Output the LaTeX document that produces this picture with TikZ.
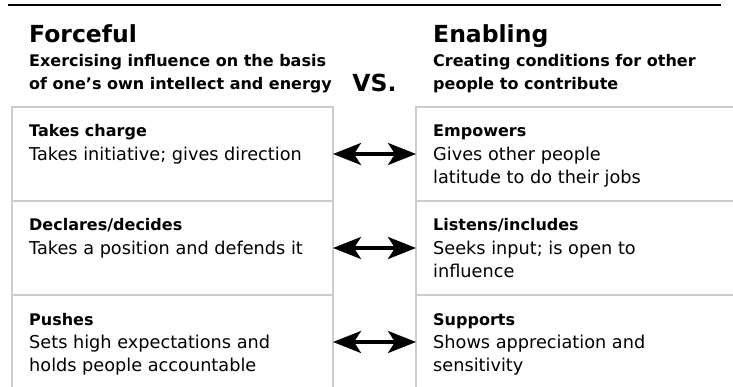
\documentclass[tikz,border=0pt]{standalone}
\usepackage{fontspec}
\setmainfont{DejaVu Sans}
\usepackage{tikz}
\usetikzlibrary{arrows.meta, calc, positioning}
\tikzstyle{heading} = [anchor=base west, inner sep=0pt, font={\fontsize{23.5}{28}\selectfont\bfseries}]
\tikzstyle{subheading} = [anchor=north west, inner sep=0pt, align=left,
font={\fontsize{16}{23}\selectfont\bfseries}]
\tikzstyle{cell} = [rectangle, draw=black!20, line width=1.1pt, outer sep=0pt,
inner sep=0pt, minimum height=94pt]
\tikzstyle{leftcell} = [cell, minimum width=321pt]
\tikzstyle{rightcell} = [cell, minimum width=344pt]
\tikzstyle{celltitle} = [anchor=base west, inner sep=0pt, font={\fontsize{16}{23.5}\selectfont\bfseries}]
\tikzstyle{celltext} = [anchor=north west, inner sep=0pt, align=left,
font={\fontsize{17.7}{23.5}\selectfont}]
\tikzstyle{arrow} = [line width=3.6pt,
{Stealth[length=28pt, width=22pt, inset=7pt]}-{Stealth[length=28pt, width=22pt, inset=7pt]}]

\begin{document}
\begin{tikzpicture}[x=1pt, y=1pt]
      \useasboundingbox (0,0) rectangle (733,-387);
      \clip (0,0) rectangle (733,-387);
      \draw [line width=1.3pt] (8,-5) -- (721,-5);

      % column headings
      \node (fhead) [heading] at (29,-43) {Forceful};
      \node (fsub) [subheading] at ([shift={(0pt,-6.9pt)}]fhead.base west)
      {\strut Exercising influence on the basis \\ of one’s own intellect and energy};
      \node (ehead) [heading] at (433,-43) {Enabling};
      \node (esub) [subheading] at ([shift={(0pt,-6.9pt)}]ehead.base west)
      {\strut Creating conditions for other \\ people to contribute};
      \node (vs) [heading, anchor=base] at (374.5,-92) {VS.};

      % rows
      \node (l1) [leftcell, anchor=north west] at (12,-107) {};
      \node (l2) [leftcell, below=0pt of l1] {};
      \node (l3) [leftcell, below=0pt of l2] {};
      \node (r1) [rightcell, right=83pt of l1] {};
      \node (r2) [rightcell, right=83pt of l2] {};
      \node (r3) [rightcell, right=83pt of l3] {};

      \node (l1h) [celltitle] at ([shift={(17pt,-30pt)}]l1.north west) {Takes charge};
      \node (l1b) [celltext] at ([shift={(17pt,-36.5pt)}]l1.north west)
      {\strut Takes initiative; gives direction};
      \node (l2h) [celltitle] at ([shift={(17pt,-30pt)}]l2.north west) {Declares/decides};
      \node (l2b) [celltext] at ([shift={(17pt,-36.5pt)}]l2.north west)
      {\strut Takes a position and defends it};
      \node (l3h) [celltitle] at ([shift={(17pt,-30pt)}]l3.north west) {Pushes};
      \node (l3b) [celltext] at ([shift={(17pt,-36.5pt)}]l3.north west)
      {\strut Sets high expectations and \\ holds people accountable};

      \node (r1h) [celltitle] at ([shift={(17pt,-30pt)}]r1.north west) {Empowers};
      \node (r1b) [celltext] at ([shift={(17pt,-36.5pt)}]r1.north west)
      {\strut Gives other people \\ latitude to do their jobs};
      \node (r2h) [celltitle] at ([shift={(17pt,-30pt)}]r2.north west) {Listens/includes};
      \node (r2b) [celltext] at ([shift={(17pt,-36.5pt)}]r2.north west)
      {\strut Seeks input; is open to \\ influence};
      \node (r3h) [celltitle] at ([shift={(17pt,-30pt)}]r3.north west) {Supports};
      \node (r3b) [celltext] at ([shift={(17pt,-36.5pt)}]r3.north west)
      {\strut Shows appreciation and \\ sensitivity};

      \draw [arrow] (l1) -- (r1);
      \draw [arrow] (l2) -- (r2);
      \draw [arrow] (l3) -- (r3);
    \end{tikzpicture}
\end{document}
